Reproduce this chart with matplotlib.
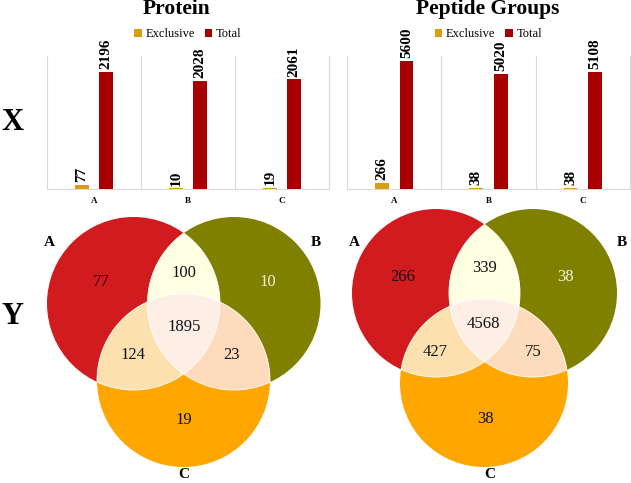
import numpy as np
import matplotlib
matplotlib.use('Agg')
import matplotlib.pyplot as plt
from matplotlib.patches import Circle, Polygon

plt.rcParams['font.family'] = ['Liberation Serif', 'DejaVu Serif']

# ----------------------------------------------------------------
# Data
# ----------------------------------------------------------------
samples = ['A', 'B', 'C']
series_names = ['Exclusive', 'Total']

protein_exclusive = [77, 10, 19]
protein_total = [2196, 2028, 2061]
peptide_exclusive = [266, 38, 38]
peptide_total = [5600, 5020, 5108]

# venn region counts: A, B, C, AB, AC, BC, ABC
venn_keys = ['A', 'B', 'C', 'AB', 'AC', 'BC', 'ABC']
protein_venn = [77, 10, 19, 100, 124, 23, 1895]
peptide_venn = [266, 38, 38, 339, 427, 75, 4568]

panel_titles = ['Protein', 'Peptide Groups']

# ----------------------------------------------------------------
# Styles / layout (pixel units of a 631 x 483 figure)
# ----------------------------------------------------------------
W, H = 631, 483
c_excl = '#DA9E0C'
c_total = '#A60000'
grid_c = '#D9D9D9'
venn_colors = {'A': '#D11B1E', 'B': '#808000', 'C': '#FFA600',
               'AB': '#FFFFE3', 'AC': '#FDE0B0', 'BC': '#FDDBBC', 'ABC': '#FDEEE6'}
venn_text_c = {'B': '#F2F2DC'}

bar_boxes = [(47, 56, 329, 189), (347, 56, 630, 189)]   # left, top, right, bottom
ymaxes = [2500, 5800]

venn_geo = [
    dict(r=86.5, centers={'A': (133.5, 303.5), 'B': (234, 303.5), 'C': (183.5, 380.5)},
         text={'A': (101, 282), 'B': (268, 282), 'C': (184, 420), 'AB': (184, 273),
               'AC': (133, 355), 'BC': (232, 355), 'ABC': (184, 327)},
         setlab={'A': (49, 243), 'B': (316, 243), 'C': (184, 475)}),
    dict(r=84, centers={'A': (436, 293), 'B': (533, 293), 'C': (484, 383)},
         text={'A': (403, 277), 'B': (565, 277), 'C': (486, 419), 'AB': (485, 268),
               'AC': (435, 352), 'BC': (533, 352), 'ABC': (483, 324)},
         setlab={'A': (354, 243), 'B': (622, 243), 'C': (490, 475)}),
]
title_x = [177, 488]

fig = plt.figure(figsize=(W / 100, H / 100), dpi=100)

# overlay axes in pixel coordinates for venns and free text
ov = fig.add_axes([0, 0, 1, 1])
ov.set_xlim(0, W)
ov.set_ylim(H, 0)
ov.axis('off')


def region_poly(centers, r, keys):
    t = np.linspace(0, 2 * np.pi, 720, endpoint=False)
    pts = []
    for k in keys:
        cx, cy = centers[k]
        p = np.column_stack([cx + r * np.cos(t), cy + r * np.sin(t)])
        ok = np.ones(len(p), bool)
        for o in keys:
            if o != k:
                ox, oy = centers[o]
                ok &= np.hypot(p[:, 0] - ox, p[:, 1] - oy) <= r + 1e-6
        pts.append(p[ok])
    pts = np.vstack(pts)
    m = pts.mean(axis=0)
    order = np.argsort(np.arctan2(pts[:, 1] - m[1], pts[:, 0] - m[0]))
    return pts[order]


for i, (excl, total) in enumerate([(protein_exclusive, protein_total),
                                   (peptide_exclusive, peptide_total)]):
    l, t, rgt, b = bar_boxes[i]
    ax = fig.add_axes([l / W, 1 - b / H, (rgt - l) / W, (b - t) / H])
    x = np.arange(len(samples))
    b1 = ax.bar(x - 0.13, excl, 0.145, color=c_excl, label=series_names[0], zorder=3)
    b2 = ax.bar(x + 0.13, total, 0.145, color=c_total, label=series_names[1], zorder=3)
    for bars, vals in [(b1, excl), (b2, total)]:
        for bar, v in zip(bars, vals):
            ax.annotate(str(v), (bar.get_x() + bar.get_width() / 2, v),
                        xytext=(0, 2), textcoords='offset points', rotation=90,
                        ha='center', va='bottom', fontsize=11, fontweight='bold')
    ax.set_xlim(-0.5, len(samples) - 0.5)
    ax.set_ylim(0, ymaxes[i])
    for s in [0.5, 1.5]:
        ax.axvline(s, color=grid_c, lw=0.8, zorder=1)
    ax.spines['top'].set_visible(False)
    for sp in ['left', 'right', 'bottom']:
        ax.spines[sp].set_color(grid_c)
        ax.spines[sp].set_linewidth(0.8)
    ax.set_yticks([])
    ax.set_xticks(x)
    ax.set_xticklabels(samples, fontsize=6.5, fontweight='bold')
    ax.tick_params(axis='x', length=0, pad=6)
    ax.legend(loc='center', bbox_to_anchor=(0.5, 1 + 22 / (b - t)), ncol=2,
              frameon=False, fontsize=9, handlelength=0.6, handleheight=0.6,
              handletextpad=0.3, columnspacing=0.8, borderpad=0)

    ov.text(title_x[i], 9, panel_titles[i], ha='center', va='center',
            fontsize=15.5, fontweight='bold')

    # venn
    g = venn_geo[i]
    vals = dict(zip(venn_keys, [protein_venn, peptide_venn][i]))
    for k in ['A', 'B', 'C']:
        ov.add_patch(Circle(g['centers'][k], g['r'], facecolor=venn_colors[k],
                            edgecolor='none', zorder=2))
    for k in ['AB', 'AC', 'BC', 'ABC']:
        poly = region_poly(g['centers'], g['r'], list(k))
        ov.add_patch(Polygon(poly, closed=True, facecolor=venn_colors[k],
                             edgecolor='white', lw=0.6, zorder=3))
    for k in venn_keys:
        ov.text(*g['text'][k], str(vals[k]), ha='center', va='center', fontsize=12,
                color=venn_text_c.get(k, '#111111'), zorder=5)
    for k in ['A', 'B', 'C']:
        ov.text(*g['setlab'][k], k, ha='center', va='center', fontsize=11,
                fontweight='bold', zorder=5)

ov.text(12, 123, 'X', ha='center', va='center', fontsize=22, fontweight='bold')
ov.text(13, 316, 'Y', ha='center', va='center', fontsize=22, fontweight='bold')

fig.savefig('out.png', dpi=100)
